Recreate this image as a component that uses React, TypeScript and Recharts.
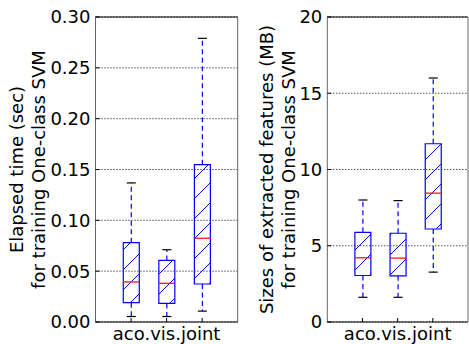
import React from 'react';
import { ComposedChart, Bar, XAxis, YAxis, CartesianGrid } from 'recharts';

// three boxes, only the middle one carries a tick label
const boxNames = ['b1', 'b2', 'b3'];
const xTickLabels = ['', 'aco.vis.joint', ''];

// training time (sec)
const timeTicks = [0, 0.05, 0.1, 0.15, 0.2, 0.25, 0.3];
const timeMin = [0.0054, 0.0054, 0.0107];
const timeQ1 = [0.019, 0.0183, 0.0374];
const timeMedian = [0.0394, 0.0381, 0.0824];
const timeQ3 = [0.078, 0.0606, 0.1547];
const timeMax = [0.1368, 0.0711, 0.279];

// feature sizes (MB)
const sizeTicks = [0, 5, 10, 15, 20];
const sizeMin = [1.62, 1.62, 3.27];
const sizeQ1 = [3.05, 3.03, 6.1];
const sizeMedian = [4.21, 4.19, 8.45];
const sizeQ3 = [5.88, 5.82, 11.69];
const sizeMax = [8.0, 7.96, 16.0];

const FONT = '"DejaVu Sans", sans-serif';
const BLUE = '#0000ff';
const RED = '#ff0000';
const CAP = 4.5;
const LW = 1.2;

interface BoxRow {
  name: string;
  base: number;
  lowWhisker: number;
  lowBox: number;
  highBox: number;
  highWhisker: number;
}

const buildRows = (mins: number[], q1s: number[], meds: number[], q3s: number[], maxs: number[]): BoxRow[] =>
  boxNames.map((name, i) => ({
    name,
    base: mins[i],
    lowWhisker: q1s[i] - mins[i],
    lowBox: meds[i] - q1s[i],
    highBox: q3s[i] - meds[i],
    highWhisker: maxs[i] - q3s[i],
  }));

const timeRows = buildRows(timeMin, timeQ1, timeMedian, timeQ3, timeMax);
const sizeRows = buildRows(sizeMin, sizeQ1, sizeMedian, sizeQ3, sizeMax);

const Empty = () => <g />;

const LowWhisker = (p: any) => {
  const cx = p.x + p.width / 2;
  const top = p.y;
  const bottom = p.y + p.height;
  return (
    <g>
      <line x1={cx} x2={cx} y1={top} y2={bottom} stroke={BLUE} strokeWidth={LW} strokeDasharray="5 3.5" />
      <line x1={cx - CAP} x2={cx + CAP} y1={bottom} y2={bottom} stroke="#000" strokeWidth={LW} />
    </g>
  );
};

const HighWhisker = (p: any) => {
  const cx = p.x + p.width / 2;
  const top = p.y;
  const bottom = p.y + p.height;
  return (
    <g>
      <line x1={cx} x2={cx} y1={bottom} y2={top} stroke={BLUE} strokeWidth={LW} strokeDasharray="5 3.5" />
      <line x1={cx - CAP} x2={cx + CAP} y1={top} y2={top} stroke="#000" strokeWidth={LW} />
    </g>
  );
};

const makeLowBox = (patternId: string) => (p: any) => {
  const { x, y, width, height } = p;
  return (
    <g>
      <rect x={x} y={y} width={width} height={height} fill={`url(#${patternId})`} stroke="none" />
      <path d={`M${x},${y} V${y + height} H${x + width} V${y}`} fill="none" stroke={BLUE} strokeWidth={LW} />
    </g>
  );
};

const makeHighBox = (patternId: string) => (p: any) => {
  const { x, y, width, height } = p;
  return (
    <g>
      <rect x={x} y={y} width={width} height={height} fill={`url(#${patternId})`} stroke="none" />
      <path d={`M${x},${y + height} V${y} H${x + width} V${y + height}`} fill="none" stroke={BLUE} strokeWidth={LW} />
      <line x1={x} x2={x + width} y1={y + height} y2={y + height} stroke={RED} strokeWidth={LW} />
    </g>
  );
};

const YLabel = (props: any) => {
  const { viewBox, lines, xs } = props;
  const cy = viewBox && viewBox.height ? viewBox.y + viewBox.height / 2 : 169.5;
  return (
    <g>
      {lines.map((line: string, i: number) => (
        <text
          key={i}
          x={xs[i]}
          y={cy}
          transform={`rotate(-90, ${xs[i]}, ${cy})`}
          textAnchor="middle"
          fontSize={18}
          fontFamily={FONT}
          fill="#000"
        >
          {line}
        </text>
      ))}
    </g>
  );
};

interface PanelProps {
  id: string;
  left: number;
  width: number;
  plotLeft: number;
  marginRight: number;
  rows: BoxRow[];
  ticks: number[];
  fmt: (v: number) => string;
  labelLines: string[];
  labelXs: number[];
  hatchOffset: number;
}

const BoxPanel: React.FC<PanelProps> = ({
  id,
  left,
  width,
  plotLeft,
  marginRight,
  rows,
  ticks,
  fmt,
  labelLines,
  labelXs,
  hatchOffset,
}) => {
  const plotWidth = width - marginRight - 1 - plotLeft;
  const pad = plotWidth / 8;
  const patternId = `hatch-${id}`;
  const tickStyle = { fontSize: 18, fill: '#000', fontFamily: FONT };
  const domain: [number, number] = [ticks[0], ticks[ticks.length - 1]];

  return (
    <div style={{ position: 'absolute', left, top: 0, width, height: 344 }}>
      <ComposedChart
        width={width}
        height={344}
        data={rows}
        margin={{ top: 16, right: marginRight, bottom: 0, left: 0 }}
        barSize={16}
      >
        <defs>
          <pattern id={patternId} patternUnits="userSpaceOnUse" width={20} height={20} x={hatchOffset} y={0}>
            <path d="M0,20 L20,0 M-2,2 L2,-2 M18,22 L22,18" stroke={BLUE} strokeWidth={1} />
          </pattern>
        </defs>
        <CartesianGrid
          xAxisId="bottom"
          yAxisId="left"
          vertical={false}
          stroke="#000"
          strokeDasharray="1 2"
        />
        <XAxis
          xAxisId="bottom"
          dataKey="name"
          height={22}
          padding={{ left: pad, right: pad }}
          interval={0}
          tickFormatter={(_v: any, i: number) => xTickLabels[i]}
          tick={tickStyle}
          tickSize={-4}
          tickMargin={9}
          tickLine={{ stroke: '#000' }}
          axisLine={{ stroke: '#000' }}
        />
        <XAxis
          xAxisId="top"
          orientation="top"
          dataKey="name"
          height={1}
          padding={{ left: pad, right: pad }}
          interval={0}
          tick={false}
          tickSize={-4}
          tickLine={{ stroke: '#000' }}
          axisLine={{ stroke: '#000' }}
        />
        <YAxis
          yAxisId="left"
          type="number"
          width={plotLeft}
          domain={domain}
          ticks={ticks}
          interval={0}
          tickFormatter={fmt}
          tick={tickStyle}
          tickSize={-4}
          tickMargin={9}
          tickLine={{ stroke: '#000' }}
          axisLine={{ stroke: '#666' }}
          label={<YLabel lines={labelLines} xs={labelXs} />}
        />
        <YAxis
          yAxisId="right"
          orientation="right"
          type="number"
          width={1}
          domain={domain}
          ticks={ticks}
          interval={0}
          tick={false}
          tickSize={-4}
          tickLine={{ stroke: '#000' }}
          axisLine={{ stroke: '#666' }}
        />
        <Bar xAxisId="bottom" yAxisId="left" dataKey="base" stackId="box" shape={Empty} isAnimationActive={false} />
        <Bar xAxisId="bottom" yAxisId="left" dataKey="lowWhisker" stackId="box" shape={LowWhisker} isAnimationActive={false} />
        <Bar xAxisId="bottom" yAxisId="left" dataKey="lowBox" stackId="box" shape={makeLowBox(patternId)} isAnimationActive={false} />
        <Bar xAxisId="bottom" yAxisId="left" dataKey="highBox" stackId="box" shape={makeHighBox(patternId)} isAnimationActive={false} />
        <Bar xAxisId="bottom" yAxisId="left" dataKey="highWhisker" stackId="box" shape={HighWhisker} isAnimationActive={false} />
      </ComposedChart>
    </div>
  );
};

export default function App() {
  return (
    <div style={{ position: 'absolute', left: 0, top: 0, width: 469, height: 344, background: '#fff', overflow: 'hidden' }}>
      <BoxPanel
        id="time"
        left={0}
        width={240}
        plotLeft={95.5}
        marginRight={1.3}
        rows={timeRows}
        ticks={timeTicks}
        fmt={(v: number) => v.toFixed(2)}
        labelLines={['Elapsed time (sec)', 'for training One-class SVM']}
        labelXs={[23, 45]}
        hatchOffset={13}
      />
      <BoxPanel
        id="size"
        left={240}
        width={229}
        plotLeft={87.3}
        marginRight={0}
        rows={sizeRows}
        ticks={sizeTicks}
        fmt={(v: number) => String(v)}
        labelLines={['Sizes of extracted features (MB)', 'for training One-class SVM']}
        labelXs={[32.5, 54.5]}
        hatchOffset={5}
      />
    </div>
  );
}
